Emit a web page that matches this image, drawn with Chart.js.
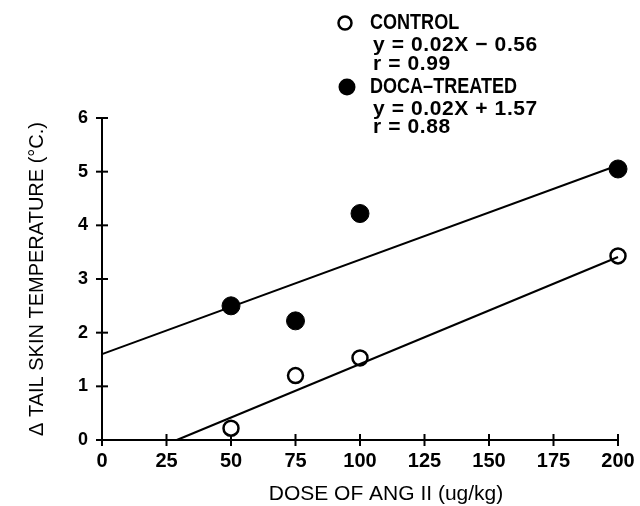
<!DOCTYPE html>
<html><head><meta charset="utf-8">
<script src="https://cdn.jsdelivr.net/npm/chart.js@4"></script>
<style>html,body{margin:0;padding:0;background:#fff}#wrap{position:relative;width:640px;height:506px}</style>
</head><body><div id="wrap"><canvas id="c" width="640" height="506"></canvas></div>
<script>
const doses = [50, 75, 100, 200];
const controlValues = [0.22, 1.2, 1.53, 3.43];
const docaValues = [2.5, 2.22, 4.22, 5.05];
const controlFitX = [29, 200];
const controlFitY = [0, 3.41];
const docaFitX = [0, 200];
const docaFitY = [1.6, 5.12];
const xTicks = [0, 25, 50, 75, 100, 125, 150, 175, 200];
const yTicks = [0, 1, 2, 3, 4, 5, 6];
const xTitle = 'DOSE OF ANG II (ug/kg)';
const yTitle = '\u0394 TAIL SKIN TEMPERATURE (\u00B0C.)';
const legendLines = [
  {marker: 'open', text: 'CONTROL'},
  {text: 'y = 0.02X \u2212 0.56'},
  {text: 'r = 0.99'},
  {marker: 'filled', text: 'DOCA\u2013TREATED'},
  {text: 'y = 0.02X + 1.57'},
  {text: 'r = 0.88'}
];
const FONT = '"Liberation Sans", Arial, Helvetica, sans-serif';

const pts = (xs, ys) => xs.map((x, i) => ({x, y: ys[i]}));

const axesPlugin = {
  id: 'axesPlugin',
  beforeDatasetsDraw(chart) {
    const ctx = chart.ctx, xs = chart.scales.x, ys = chart.scales.y;
    const x0 = xs.getPixelForValue(0), x1 = xs.getPixelForValue(200);
    const y0 = ys.getPixelForValue(0), y1 = ys.getPixelForValue(6);
    ctx.save();
    ctx.strokeStyle = '#000'; ctx.lineWidth = 2;
    ctx.beginPath();
    ctx.moveTo(x0, y1); ctx.lineTo(x0, y0); ctx.lineTo(x1, y0);
    ctx.stroke();
    xTicks.forEach(v => { const p = xs.getPixelForValue(v); ctx.beginPath(); ctx.moveTo(p, y0 - 6); ctx.lineTo(p, y0 + 6); ctx.stroke(); });
    yTicks.forEach(v => { const p = ys.getPixelForValue(v); ctx.beginPath(); ctx.moveTo(x0 - 6, p); ctx.lineTo(x0 + 6, p); ctx.stroke(); });
    // x axis title
    ctx.fillStyle = '#000';
    ctx.font = '21px ' + FONT;
    ctx.textAlign = 'center'; ctx.textBaseline = 'middle';
    ctx.fillText(xTitle, 386, 494);
    // legend
    ctx.textAlign = 'left';
    const ly = [23, 45, 64, 87, 109, 127];
    legendLines.forEach((l, i) => {
      const y = ly[i];
      if (l.marker) {
        ctx.beginPath();
        if (l.marker === 'filled') { ctx.arc(347, y, 8.5, 0, Math.PI * 2); ctx.fill(); }
        else { ctx.arc(345, y, 6.5, 0, Math.PI * 2); ctx.lineWidth = 2.5; ctx.stroke(); }
        ctx.save();
        ctx.translate(370, y);
        ctx.scale(0.82, 1);
        ctx.font = 'bold 22px ' + FONT;
        ctx.fillText(l.text, 0, 0);
        ctx.restore();
      } else {
        ctx.save();
        ctx.font = 'bold 21px ' + FONT;
        if ('letterSpacing' in ctx) ctx.letterSpacing = '0.6px';
        ctx.fillText(l.text, 373, y);
        ctx.restore();
      }
    });
    ctx.restore();
  }
};

new Chart(document.getElementById('c'), {
  type: 'scatter',
  data: {
    datasets: [
      {label: 'Control fit', type: 'line', data: pts(controlFitX, controlFitY), borderColor: '#000', borderWidth: 2, pointRadius: 0, fill: false, clip: false},
      {label: 'DOCA fit', type: 'line', data: pts(docaFitX, docaFitY), borderColor: '#000', borderWidth: 2, pointRadius: 0, fill: false, clip: false},
      {label: 'CONTROL', data: pts(doses, controlValues), pointRadius: 7.5, pointBorderWidth: 2.5, pointBorderColor: '#000', pointBackgroundColor: '#fff', clip: false},
      {label: 'DOCA-TREATED', data: pts(doses, docaValues), pointRadius: 9, pointBorderWidth: 1, pointBorderColor: '#000', pointBackgroundColor: '#000', clip: false}
    ]
  },
  options: {
    responsive: false, animation: false, events: [],
    layout: {padding: {top: 118, right: 22, left: 0, bottom: 0}},
    plugins: {legend: {display: false}, tooltip: {enabled: false}},
    scales: {
      x: {
        type: 'linear', min: 0, max: 200,
        afterBuildTicks: s => { s.ticks = xTicks.map(v => ({value: v})); },
        afterFit: s => { s.height = 66; s.paddingLeft = 0; s.paddingRight = 0; },
        grid: {display: false, drawTicks: false},
        border: {display: false},
        ticks: {color: '#000', padding: 9, font: {size: 20, weight: 'bold', family: FONT}, maxRotation: 0},
        title: {display: false}
      },
      y: {
        type: 'linear', min: 0, max: 6,
        afterBuildTicks: s => { s.ticks = yTicks.map(v => ({value: v})); },
        afterFit: s => { s.width = 102; s.paddingTop = 0; s.paddingBottom = 0; },
        grid: {display: false, drawTicks: false},
        border: {display: false},
        ticks: {color: '#000', padding: 14, font: {size: 18, weight: 'bold', family: FONT}},
        title: {display: true, text: yTitle, color: '#000', padding: {top: 25, bottom: 0}, font: {size: 20, family: FONT}}
      }
    }
  },
  plugins: [axesPlugin]
});
</script></body></html>
